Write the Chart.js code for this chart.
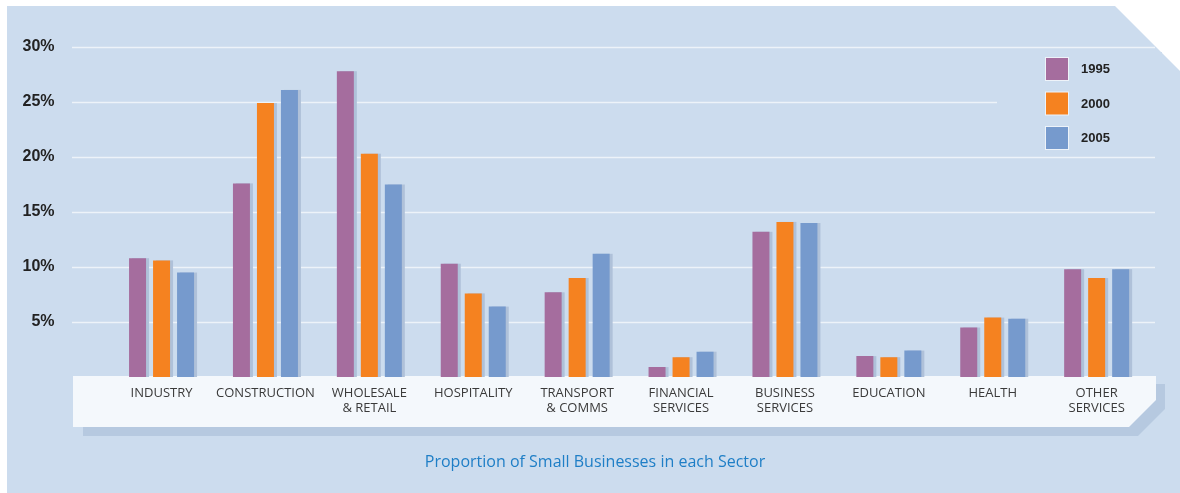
<!DOCTYPE html>
<html>
<head>
<meta charset="utf-8">
<script src="https://cdn.jsdelivr.net/npm/chart.js@4.4.1/dist/chart.umd.min.js"></script>
<style>
  html, body { margin: 0; padding: 0; background: #fff; }
  .chart-container { position: relative; width: 1180px; height: 493px; }
</style>
</head>
<body>
<div class="chart-container">
  <canvas id="sectorChart"></canvas>
</div>
<script>
const sectors = [
  'INDUSTRY', 'CONSTRUCTION', ['WHOLESALE', '& RETAIL'], 'HOSPITALITY',
  ['TRANSPORT', '& COMMS'], ['FINANCIAL', 'SERVICES'], ['BUSINESS', 'SERVICES'],
  'EDUCATION', 'HEALTH', ['OTHER', 'SERVICES']
];
const years = ['1995', '2000', '2005'];
const share1995 = [10.8, 17.6, 27.8, 10.3, 7.7, 0.9, 13.2, 1.9, 4.5, 9.8];
const share2000 = [10.6, 24.9, 20.3, 7.6, 9.0, 1.8, 14.1, 1.8, 5.4, 9.0];
const share2005 = [9.5, 26.1, 17.5, 6.4, 11.2, 2.3, 14.0, 2.4, 5.3, 9.8];
const yTickValues = [0, 5, 10, 15, 20, 25, 30];

const colors = ['#a56d9e', '#f58220', '#769acd'];
const panelColor = '#ccdcee';

// background panel, white label band and its shadow
const backdrop = {
  id: 'backdrop',
  beforeDraw(chart) {
    const ctx = chart.ctx;
    ctx.save();
    ctx.fillStyle = '#fff';
    ctx.fillRect(0, 0, chart.width, chart.height);

    ctx.fillStyle = panelColor;
    ctx.beginPath();
    ctx.moveTo(7, 6);
    ctx.lineTo(1115, 6);
    ctx.lineTo(1180, 71);
    ctx.lineTo(1180, 493);
    ctx.lineTo(7, 493);
    ctx.closePath();
    ctx.fill();

    ctx.fillStyle = '#b6c9e0';
    ctx.beginPath();
    ctx.moveTo(83, 384);
    ctx.lineTo(1165, 384);
    ctx.lineTo(1165, 409);
    ctx.lineTo(1138, 436);
    ctx.lineTo(83, 436);
    ctx.closePath();
    ctx.fill();

    ctx.fillStyle = '#f4f8fc';
    ctx.beginPath();
    ctx.moveTo(73, 376);
    ctx.lineTo(1156, 376);
    ctx.lineTo(1156, 400);
    ctx.lineTo(1129, 427);
    ctx.lineTo(73, 427);
    ctx.closePath();
    ctx.fill();

    ctx.fillStyle = '#1e7ec6';
    ctx.font = '16px "Open Sans"';
    ctx.textAlign = 'center';
    ctx.textBaseline = 'middle';
    ctx.fillText('Proportion of Small Businesses in each Sector', 595, 462);
    ctx.restore();
  },
  beforeDatasetsDraw(chart) {
    const ctx = chart.ctx;
    const y = chart.scales.y;
    ctx.save();
    // gridlines run wider than the bar area
    ctx.strokeStyle = 'rgba(255,255,255,0.65)';
    ctx.lineWidth = 1.5;
    yTickValues.forEach(v => {
      if (v === 0) return;
      const py = Math.round(y.getPixelForValue(v)) + 0.5;
      ctx.beginPath();
      ctx.moveTo(72, py);
      ctx.lineTo(1155, py);
      ctx.stroke();
    });
    // legend sits on a plain patch
    ctx.fillStyle = panelColor;
    ctx.fillRect(997, 52, 165, 100);

    // bar shadows
    ctx.fillStyle = '#afc1d9';
    chart.data.datasets.forEach((ds, i) => {
      chart.getDatasetMeta(i).data.forEach(bar => {
        const p = bar.getProps(['x', 'y', 'base', 'width'], true);
        ctx.fillRect(p.x - p.width / 2 + 3, p.y, p.width, p.base - p.y);
      });
    });
    ctx.restore();
  },
  afterDatasetsDraw(chart) {
    const ctx = chart.ctx;
    ctx.save();
    ctx.font = 'bold 13px "Liberation Sans", Arial';
    ctx.textBaseline = 'middle';
    chart.data.datasets.forEach((ds, i) => {
      const top = 57 + i * 34.5;
      ctx.fillStyle = '#eef3f9';
      ctx.fillRect(1045, top, 24, 24);
      ctx.fillStyle = ds.backgroundColor;
      ctx.fillRect(1046, top + 1, 22, 22);
      ctx.fillStyle = '#222';
      ctx.fillText(ds.label, 1081, top + 12.5);
    });
    ctx.restore();
  }
};

new Chart(document.getElementById('sectorChart'), {
  type: 'bar',
  data: {
    labels: sectors,
    datasets: [
      { label: years[0], data: share1995, backgroundColor: colors[0] },
      { label: years[1], data: share2000, backgroundColor: colors[1] },
      { label: years[2], data: share2005, backgroundColor: colors[2] },
    ],
  },
  options: {
    responsive: true,
    maintainAspectRatio: false,
    animation: false,
    layout: { padding: { left: 9.6, right: 31.4, top: 47, bottom: 0 } },
    datasets: {
      bar: { categoryPercentage: 0.693, barPercentage: 0.708 },
    },
    plugins: {
      legend: { display: false },
      tooltip: { enabled: false },
    },
    scales: {
      x: {
        grid: { display: false, drawTicks: false },
        border: { display: false },
        afterFit(scale) { scale.height = 116; },
        ticks: {
          padding: 9,
          maxRotation: 0,
          autoSkip: false,
          color: '#3a3a3a',
          font: { family: '"Open Sans"', size: 13, lineHeight: 1.15 },
        },
      },
      y: {
        min: 0,
        max: 30,
        grid: { display: false, drawTicks: false },
        border: { display: false },
        afterFit(scale) {
          // the big tick padding would otherwise push the plot down
          scale.width = 100;
          scale.paddingTop = 0;
          scale.paddingBottom = 0;
        },
        afterBuildTicks(scale) {
          scale.ticks = yTickValues.map(v => ({ value: v }));
        },
        ticks: {
          padding: 55,
          color: '#222',
          font: { family: '"Liberation Sans", Arial', size: 16, weight: 'bold' },
          callback: v => (v === 0 ? '' : v + '%'),
        },
      },
    },
  },
  plugins: [backdrop],
});
</script>
</body>
</html>
